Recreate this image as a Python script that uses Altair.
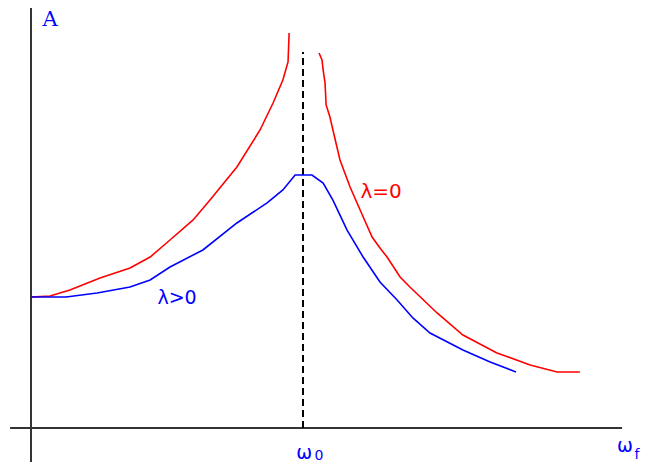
import altair as alt
import pandas as pd

# omega in units of omega_0, amplitude A in units of A(0)
red_left_w = [0.0, 0.07, 0.143, 0.254, 0.364, 0.438, 0.511, 0.596, 0.658, 0.757, 0.842, 0.89, 0.926, 0.945, 0.949]
red_left_a = [1.0, 1.008, 1.053, 1.145, 1.221, 1.305, 1.435, 1.588, 1.74, 1.992, 2.275, 2.481, 2.656, 2.794, 3.015]
red_right_w = [1.059, 1.07, 1.074, 1.081, 1.085, 1.099, 1.11, 1.136, 1.173, 1.21, 1.254, 1.283, 1.309, 1.357, 1.393, 1.493, 1.588, 1.713, 1.835, 1.934, 2.018]
red_right_a = [2.863, 2.809, 2.733, 2.634, 2.466, 2.374, 2.275, 2.046, 1.84, 1.664, 1.458, 1.374, 1.305, 1.153, 1.076, 0.878, 0.71, 0.573, 0.481, 0.427, 0.427]
blue_w = [0.0, 0.129, 0.243, 0.364, 0.438, 0.511, 0.632, 0.757, 0.868, 0.926, 0.971, 1.033, 1.074, 1.11, 1.162, 1.221, 1.283, 1.346, 1.404, 1.467, 1.588, 1.688, 1.783]
blue_a = [1.0, 1.0, 1.031, 1.076, 1.13, 1.229, 1.359, 1.565, 1.718, 1.817, 1.931, 1.931, 1.87, 1.74, 1.511, 1.305, 1.115, 0.977, 0.84, 0.725, 0.595, 0.504, 0.427]

omega0 = 1.0
dash_top = 2.87

rows = []
for i, (w, a) in enumerate(zip(red_left_w, red_left_a)):
    rows.append({"w": w, "a": a, "s": "red_l", "o": i})
for i, (w, a) in enumerate(zip(red_right_w, red_right_a)):
    rows.append({"w": w, "a": a, "s": "red_r", "o": i})
for i, (w, a) in enumerate(zip(blue_w, blue_a)):
    rows.append({"w": w, "a": a, "s": "blue", "o": i})
df = pd.DataFrame(rows)

xs = alt.Scale(domain=[-23 / 272, 611 / 272], nice=False, zero=False)
ys = alt.Scale(domain=[-34 / 131, 420 / 131], nice=False, zero=False)

color = alt.Scale(domain=["red_l", "red_r", "blue"], range=["#ff0000", "#ff0000", "#0000ff"])

lines = alt.Chart(df).mark_line(strokeWidth=1.6).encode(
    x=alt.X("w:Q", scale=xs, axis=None),
    y=alt.Y("a:Q", scale=ys, axis=None),
    color=alt.Color("s:N", scale=color, legend=None),
    detail="s:N",
    order="o:Q",
)

axes_df = pd.DataFrame([
    {"x1": 0.0, "x2": 0.0, "y1": -0.282, "y2": 3.206},
    {"x1": -0.077, "x2": 2.173, "y1": 0.0, "y2": 0.0},
])
axes = alt.Chart(axes_df).mark_rule(color="#333333", strokeWidth=2).encode(
    x=alt.X("x1:Q", scale=xs, axis=None), x2="x2:Q",
    y=alt.Y("y1:Q", scale=ys, axis=None), y2="y2:Q",
)

dash_df = pd.DataFrame([{"x": omega0, "y1": 0.0, "y2": dash_top}])
dash = alt.Chart(dash_df).mark_rule(color="#000000", strokeWidth=2, strokeDash=[7, 4]).encode(
    x=alt.X("x:Q", scale=xs, axis=None), y=alt.Y("y1:Q", scale=ys, axis=None), y2="y2:Q",
)

label_text = ["λ=0", "λ>0", "ω", "0", "ω", "f"]
label_x = [1.287, 0.537, 1.004, 1.059, 2.184, 2.228]
label_y = [1.80, 0.99, -0.191, -0.214, -0.137, -0.206]
label_color = ["#ff0000", "#0000ff", "#0000ff", "#0000ff", "#0000ff", "#0000ff"]
label_size = [20, 19, 19, 14, 19, 14]
lab_df = pd.DataFrame({"x": label_x, "y": label_y, "t": label_text, "c": label_color, "f": label_size})

texts = alt.Chart(lab_df).mark_text(font="DejaVu Sans", baseline="middle", align="center").encode(
    x=alt.X("x:Q", scale=xs, axis=None),
    y=alt.Y("y:Q", scale=ys, axis=None),
    text="t:N",
    color=alt.Color("c:N", scale=None),
    size=alt.Size("f:Q", scale=None),
)

a_df = pd.DataFrame({"x": [0.07], "y": [3.069], "t": ["A"]})
a_text = alt.Chart(a_df).mark_text(font="DejaVu Serif", fontSize=21, color="#0000ff", baseline="alphabetic", align="center").encode(
    x=alt.X("x:Q", scale=xs, axis=None),
    y=alt.Y("y:Q", scale=ys, axis=None),
    text="t:N",
)

chart = alt.layer(axes, dash, lines, texts, a_text).properties(
    width=634, height=454, padding=0, autosize=alt.AutoSizeParams(type="none")
).configure_view(strokeWidth=0)

chart.save("out.html", embed_options={"renderer": "svg", "actions": False})
